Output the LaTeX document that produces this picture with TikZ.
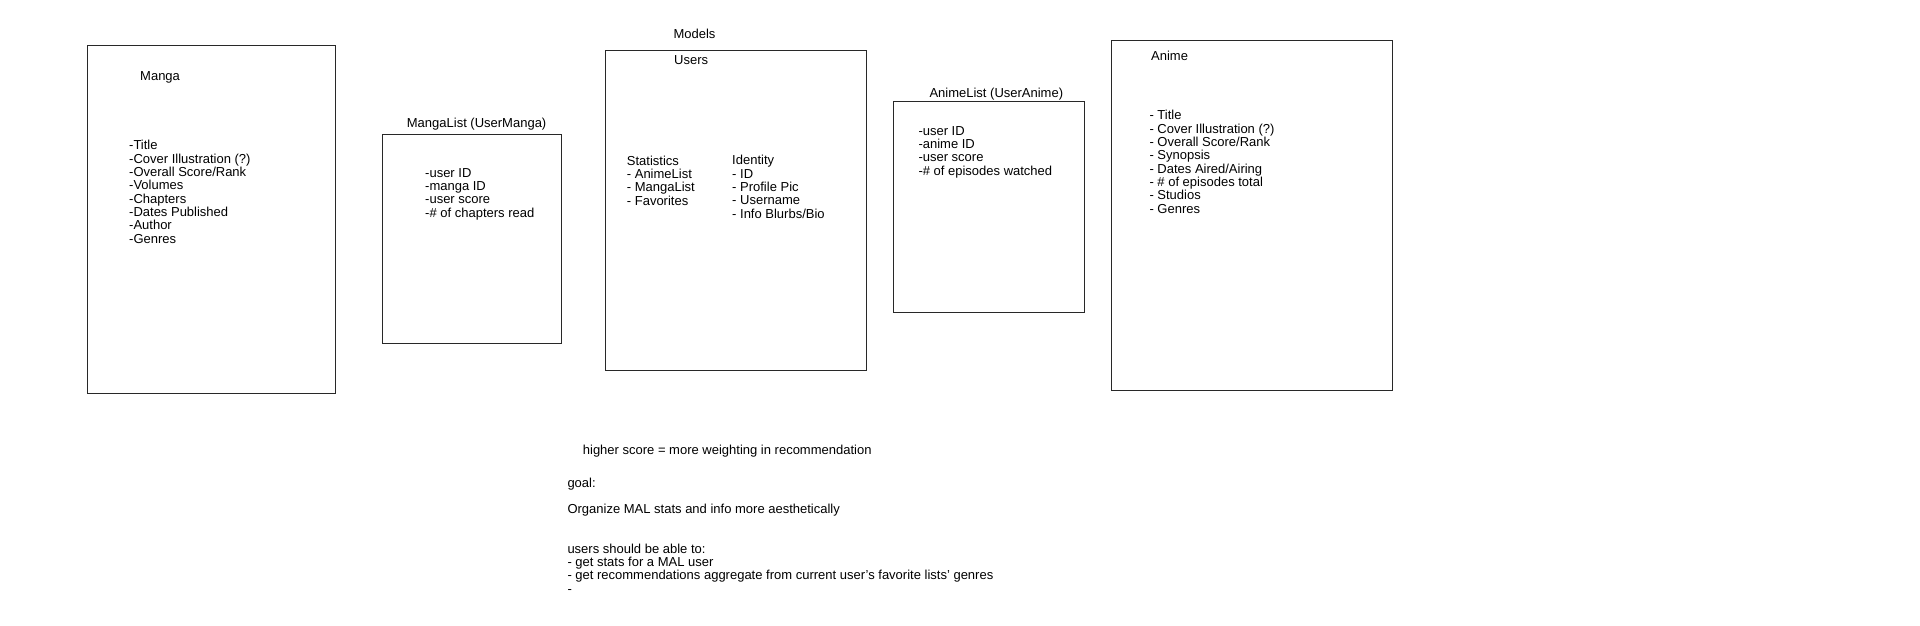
\documentclass[tikz,border=0pt]{standalone}
\usepackage{fontspec}
\setmainfont{Liberation Sans}
\usepackage{tikz}
\usetikzlibrary{positioning}
\definecolor{myframe}{RGB}{40, 40, 40}
\newcommand{\notefont}{\fontsize{13}{13.33}\selectfont}

\begin{document}
\begin{tikzpicture}[
    x = 1pt, y = -1pt,
    frame/.style = {draw = myframe, line width = 1pt},
    txt/.style = {anchor = base west, inner sep = 0pt, font = \notefont, align = left},
]
\useasboundingbox (0, 0) rectangle (1920, 626);

% model boxes
\draw[frame] (87.3, 46) rectangle (335, 393);
\draw[frame] (382, 134.3) rectangle (561.7, 343.3);
\draw[frame] (605, 50.3) rectangle (866.7, 370);
\draw[frame] (893.3, 101.3) rectangle (1084, 312.7);
\draw[frame] (1111.7, 40.7) rectangle (1392.3, 390);

% titles
\node[txt] (models) at (673.3, 39) {Models};
\node[txt] (users) at (674, 64) {Users};
\node[txt] (manga) at (140, 81) {Manga};
\node[txt] (mangalist) at (406.7, 127) {MangaList (UserManga)};
\node[txt] (animelist) at (929.3, 97) {AnimeList (UserAnime)};
\node[txt] (anime) at (1151, 61) {Anime};

% fields (anchored at the last line)
\node[txt] (mangaf) at (129, 243.3) {-Title\\-Cover Illustration (?)\\-Overall Score/Rank\\-Volumes\\-Chapters\\-Dates Published\\-Author\\-Genres};
\node[txt] (mangalistf) at (425, 217) {-user ID\\-manga ID\\-user score\\-\# of chapters read};
\node[txt] (stats) at (626.7, 205) {Statistics\\- AnimeList\\- MangaList\\- Favorites};
\node[txt] (ident) at (732, 218.3) {Identity\\- ID\\- Profile Pic\\- Username\\- Info Blurbs/Bio};
\node[txt] (animelistf) at (918.3, 175) {-user ID\\-anime ID\\-user score\\-\# of episodes watched};
\node[txt] (animef) at (1149.3, 213.3) {- Title\\- Cover Illustration (?)\\- Overall Score/Rank\\- Synopsis\\- Dates Aired/Airing\\- \# of episodes total\\- Studios\\- Genres};

% notes
\node[txt] (weight) at (582.7, 454) {higher score = more weighting in recommendation};
\node[txt] (goal) at (567.3, 487) {goal:};
\node[txt] (organize) at (567.3, 513) {Organize MAL stats and info more aesthetically};
\node[txt] (able) at (567.3, 593) {users should be able to:\\- get stats for a MAL user\\- get recommendations aggregate from current user's favorite lists' genres\\-};

\end{tikzpicture}
\end{document}
